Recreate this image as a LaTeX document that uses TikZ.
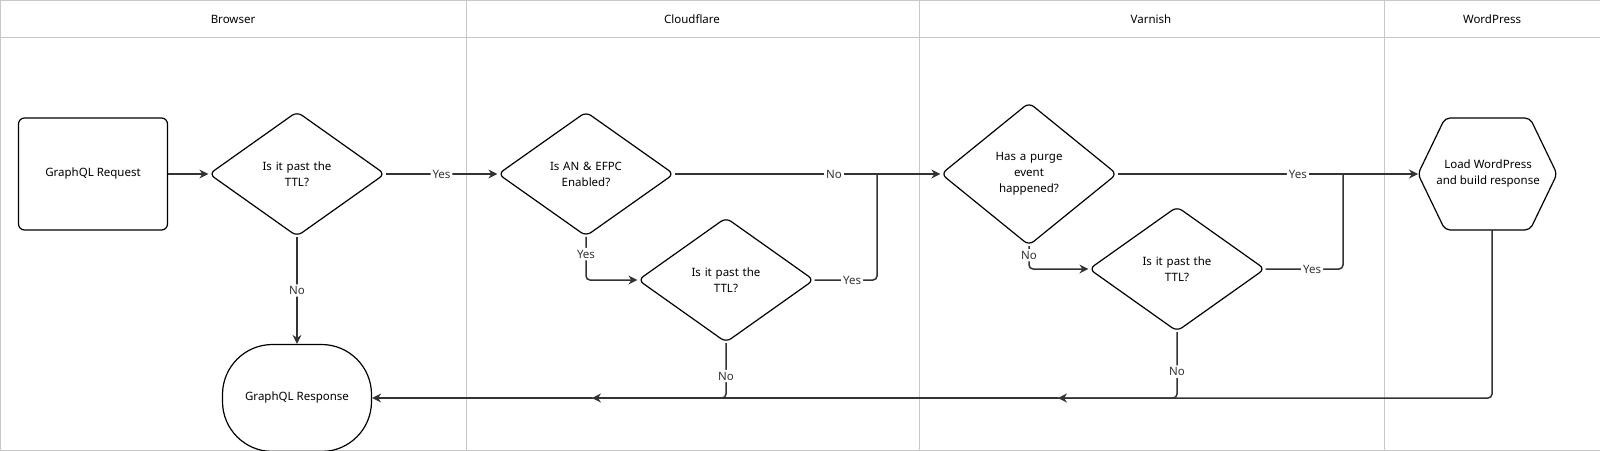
\documentclass[tikz,border=0pt]{standalone}
\usepackage{fontspec}
\setmainfont{Noto Sans}
\usetikzlibrary{calc, shapes.geometric, arrows.meta, positioning}
\definecolor{lanegray}{HTML}{C8C8C8}
\definecolor{inkgray}{HTML}{333333}

\begin{document}
\begin{tikzpicture}[x=1pt, y=-1pt, font=\fontsize{11.5}{16}\selectfont,
    lane/.style={draw=lanegray, line width=0.8pt},
    flow/.style={draw=inkgray, line width=1.5pt, rounded corners=4pt},
    arr/.style={flow, -{Stealth[length=9pt, width=9pt]}},
    lbl/.style={fill=white, inner sep=2pt, text=inkgray},
    decide/.style={diamond, draw=black, line width=1.2pt, rounded corners=6pt,
        minimum width=176pt, minimum height=112pt, align=center, inner sep=0pt, text width=100pt},
    boxed/.style={draw=black, line width=1.2pt, rounded corners=6pt, align=center}]
    \useasboundingbox (0,0) rectangle (1600,450);
    % Swim lanes
    \draw[lane] (0,0) rectangle (1600,450);
    \draw[lane] (0,37) -- (1600,37);
    \foreach \x in {466, 919, 1384} \draw[lane] (\x,0) -- (\x,450);
    \node (hBrowser) at (233,19) {Browser};
    \node (hCloud) at (692,19) {Cloudflare};
    \node (hVarnish) at (1151,19) {Varnish};
    \node (hWP) at (1492,19) {WordPress};

    % Browser
    \node[boxed, minimum width=149pt, minimum height=112pt] (req) at (93,174) {GraphQL Request};
    \node[decide] (ttlA) at (297,174) {Is it past the\\TTL?};
    \node[boxed, rounded corners=50pt, minimum width=149pt, minimum height=107pt] (resp) at (297,398) {GraphQL Response};

    % Cloudflare
    \node[decide] (efpc) at (586,174) {Is AN \& EFPC\\Enabled?};
    \node[decide] (ttlB) at (726,280) {Is it past the\\TTL?};

    % Varnish
    \node[decide] (purge) at (1029,174) {Has a purge\\event\\happened?};
    \node[decide] (ttlC) at (1177,269) {Is it past the\\TTL?};

    % WordPress
    \draw[line width=1.2pt, rounded corners=5pt] (1418,174) -- (1445,118) -- (1530,118)
        -- (1557,174) -- (1530,230) -- (1445,230) -- cycle;
    \node[align=center] (wp) at (1488,174) {Load WordPress\\and build response};
    \coordinate (wpW) at (1418,174);
    \coordinate (wpS) at (1492,230);

    % Joins
    \coordinate (joinB) at (877,174);
    \coordinate (joinC) at (1343,174);
    \coordinate (arrC) at (1058,398);
    \coordinate (arrB) at (592,398);

    % Connectors
    \draw[arr] (req) -- (ttlA);
    \draw[arr] (ttlA) -- node[lbl] {Yes} (efpc);
    \draw[arr] (ttlA) -- node[lbl, pos=0.5] {No} (resp);
    \draw[arr] (efpc) -- node[lbl, pos=0.6] {No} (purge);
    \draw[arr] (efpc.south) |- node[lbl, pos=0.2] {Yes} (ttlB.west);
    \draw[flow] (ttlB.east) -| node[lbl, pos=0.3] {Yes} (joinB);
    \draw[flow] (ttlB.south) |- node[lbl, pos=0.3] {No} (arrB);
    \draw[arr] (purge) -- node[lbl, pos=0.6] {Yes} (wpW);
    \draw[arr] (purge.south) |- node[lbl, pos=0.2] {No} (ttlC.west);
    \draw[flow] (ttlC.east) -| node[lbl, pos=0.3] {Yes} (joinC);
    \draw[flow] (ttlC.south) |- node[lbl, pos=0.3] {No} (arrC);
    \draw[arr] (wpS) |- (arrC);
    \draw[arr] (arrC) -- (arrB);
    \draw[arr] (arrB) -- (resp);
\end{tikzpicture}
\end{document}
